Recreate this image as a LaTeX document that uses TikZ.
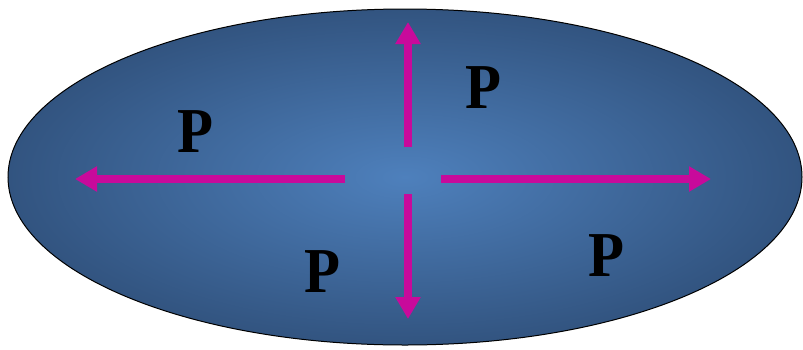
\documentclass[tikz,border=0pt]{standalone}
\usepackage{fontspec}
\setmainfont{Liberation Serif}
\usetikzlibrary{arrows.meta}
\definecolor{arrowmag}{RGB}{200,10,155}
\definecolor{innerblue}{RGB}{78,128,188}
\definecolor{outerblue}{RGB}{50,84,128}
\tikzset{
  force/.style={draw=arrowmag, line width=8pt, -{Triangle[length=22pt,width=24pt]}},
  plabel/.style={font=\fontsize{64}{64}\selectfont\bfseries, text=black, inner sep=0pt, xscale=0.92}
}
\begin{document}
\begin{tikzpicture}[x=1pt,y=-1pt]
\useasboundingbox (0,0) rectangle (803,349);
\fill[white] (0,0) rectangle (803,349);
\path[draw=black, line width=1pt, inner color=innerblue, outer color=outerblue]
  (405,177) ellipse [x radius=397, y radius=168];
\coordinate (ls) at (345,179);
\coordinate (le) at (75,179);
\coordinate (rs) at (441,179);
\coordinate (re) at (711,179);
\coordinate (ts) at (408,147);
\coordinate (te) at (408,22);
\coordinate (bs) at (408,194);
\coordinate (be) at (408,319);
\draw[force] (ls) -- (le);
\draw[force] (rs) -- (re);
\draw[force] (ts) -- (te);
\draw[force] (bs) -- (be);
\node[plabel] (p1) at (195,132) {P};
\node[plabel] (p2) at (483,88) {P};
\node[plabel] (p3) at (322,272) {P};
\node[plabel] (p4) at (606,256) {P};
\end{tikzpicture}
\end{document}
